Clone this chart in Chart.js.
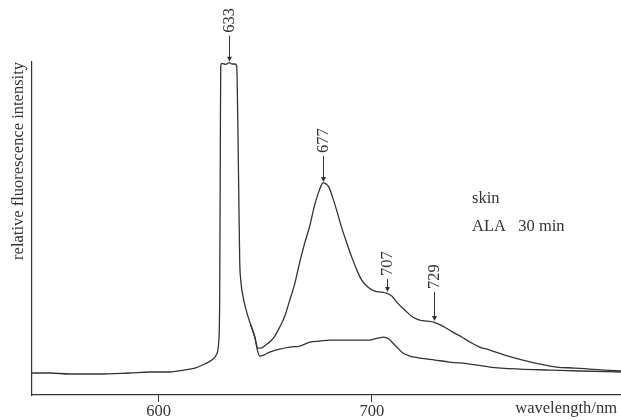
<!DOCTYPE html>
<html>
<head>
<meta charset="utf-8">
<script src="https://cdn.jsdelivr.net/npm/chart.js@4/dist/chart.umd.min.js"></script>
<style>
  html, body { margin: 0; padding: 0; background: #ffffff; }
  #wrap { width: 621px; height: 420px; }
</style>
</head>
<body>
<div id="wrap"><canvas id="spectrum" width="621" height="420"></canvas></div>
<script>
// Fluorescence emission spectrum of skin, 30 min after ALA application.
// Upper trace: with the 677 nm band; lower trace: reference spectrum.
const wavelengthsUpper = [540.5, 549, 558, 572, 586, 596, 605, 612, 617, 621.6, 624.9, 627.2, 628.2, 628.6, 628.9, 629.1, 629.6, 631.5, 633, 634.3, 635.7, 636.6, 637.1, 637.6, 638.0, 638.5, 639.9, 641.3, 643.2, 645.1, 646.5, 647.9, 650.2, 652.1, 654.5, 656.8, 659.2, 661.5, 663.8, 666.2, 668.5, 670.9, 673.2, 675.1, 676.2, 677, 679.8, 681.7, 683.6, 685.9, 688.3, 690.6, 693.0, 695.3, 698.1, 701.4, 704.7, 707, 709.4, 711.7, 715.5, 719.2, 722.5, 726.3, 729, 733.3, 738, 742.3, 746, 750.7, 755.4, 762.4, 770.9, 778.9, 786.9, 795.3, 802.3, 809.4, 817];
const intensityUpper = [6.6, 6.6, 6.3, 6.3, 6.6, 6.9, 6.9, 7.5, 8.1, 9.3, 10.5, 12.3, 16.5, 28.5, 73.6, 98.8, 99.6, 99.3, 99.8, 99.4, 99.4, 98.8, 82.6, 58.6, 40.5, 34.5, 28.5, 24.9, 21.0, 17.4, 14.1, 14.1, 15.0, 15.9, 17.7, 20.4, 23.7, 28.5, 33.3, 39.9, 45.6, 50.8, 57.1, 61.0, 62.8, 63.7, 62.5, 59.2, 55.3, 50.2, 45.6, 41.4, 37.5, 34.5, 32.4, 31.2, 30.9, 30.6, 29.7, 27.9, 25.5, 23.4, 22.5, 22.2, 21.9, 20.7, 18.9, 17.4, 15.9, 14.4, 13.5, 12.0, 10.5, 9.3, 8.4, 8.1, 7.8, 7.5, 7.2];

const wavelengthsLower = [643.2, 645.1, 646.3, 647.4, 649.3, 652.1, 656.8, 661.5, 666.2, 670.9, 675.6, 680.3, 685, 689.7, 694.4, 699.1, 702.8, 705.6, 708, 709.9, 712.2, 714.6, 717.8, 722.5, 729.6, 736.6, 746, 755.4, 769.5, 783.6, 797.7, 817];
const intensityLower = [21.0, 17.4, 13.5, 11.7, 12.0, 12.9, 13.8, 14.4, 14.7, 15.9, 16.2, 16.5, 16.5, 16.5, 16.5, 16.5, 17.1, 17.4, 16.8, 15.6, 14.1, 12.6, 11.7, 11.1, 10.5, 9.9, 9.3, 8.4, 7.8, 7.5, 7.2, 6.9];

const xTicks = [600, 700];
const peakWavelengths = [633, 677, 707, 729];
const peakLabels = ['633', '677', '707', '729'];
const sampleLines = ['skin', 'ALA   30 min'];

const ink = '#333333';
const serif = "'Liberation Serif', 'DejaVu Serif', serif";

const toPoints = (xs, ys) => xs.map((x, i) => ({ x, y: ys[i] }));
const upperPoints = toPoints(wavelengthsUpper, intensityUpper);
const lowerPoints = toPoints(wavelengthsLower, intensityLower);

// Arrows and wavelength labels above the bands, plus the sample note.
const peakMarks = {
  id: 'peakMarks',
  afterDatasetsDraw(chart, args, opts) {
    const { ctx, scales: { x, y }, chartArea } = chart;
    ctx.save();
    ctx.fillStyle = ink;
    ctx.strokeStyle = ink;
    ctx.font = `16.5px ${serif}`;
    peakWavelengths.forEach((nm, i) => {
      const pt = upperPoints.find(p => p.x === nm);
      const px = Math.round(x.getPixelForValue(nm)) + 0.5;
      const tipY = y.getPixelForValue(pt.y) - 1;
      const startY = tipY - opts.arrowLengths[i];
      ctx.lineWidth = 1;
      ctx.beginPath();
      ctx.moveTo(px, startY);
      ctx.lineTo(px, tipY - 4);
      ctx.stroke();
      ctx.beginPath();
      ctx.moveTo(px - 2.5, tipY - 5);
      ctx.lineTo(px + 2.5, tipY - 5);
      ctx.lineTo(px, tipY);
      ctx.closePath();
      ctx.fill();
      ctx.save();
      ctx.translate(px, startY - 3);
      ctx.rotate(-Math.PI / 2);
      ctx.textAlign = 'left';
      ctx.textBaseline = 'middle';
      ctx.fillText(peakLabels[i], 0, 0);
      ctx.restore();
    });
    // sample description
    ctx.textAlign = 'left';
    ctx.textBaseline = 'middle';
    sampleLines.forEach((line, i) => {
      ctx.fillText(line, chartArea.left + 440, chartArea.top + 137 + i * 28);
    });
    // x-axis unit, sharing the tick-label row
    ctx.textAlign = 'right';
    ctx.textBaseline = 'top';
    ctx.fillText('wavelength/nm', chartArea.right - 4, chartArea.bottom + 5);
    ctx.restore();
  }
};

new Chart(document.getElementById('spectrum'), {
  type: 'line',
  data: {
    datasets: [
      { data: upperPoints, borderColor: ink, borderWidth: 1.3, pointRadius: 0, cubicInterpolationMode: 'monotone', fill: false },
      { data: lowerPoints, borderColor: ink, borderWidth: 1.3, pointRadius: 0, cubicInterpolationMode: 'monotone', fill: false }
    ]
  },
  options: {
    responsive: false,
    animation: false,
    devicePixelRatio: 1,
    layout: { padding: { top: 62, right: 0, left: 0, bottom: 0 } },
    plugins: {
      legend: { display: false },
      tooltip: { enabled: false },
      peakMarks: { arrowLengths: [26, 26, 13, 29] }
    },
    scales: {
      x: {
        type: 'linear',
        min: 540.5,
        max: 817,
        afterBuildTicks(scale) { scale.ticks = xTicks.map(v => ({ value: v })); },
        afterFit(scale) { scale.height = 25; },
        grid: { drawOnChartArea: false, drawTicks: true, tickLength: 7, tickColor: ink, lineWidth: 1 },
        border: { display: true, color: ink, width: 1.2 },
        ticks: { color: ink, padding: 0, maxRotation: 0, font: { family: serif, size: 16.5 } }
      },
      y: {
        min: 0,
        max: 100,
        afterFit(scale) { scale.width = 32; },
        grid: { display: false, drawTicks: false },
        border: { display: true, color: ink, width: 1.2 },
        ticks: { display: false },
        title: {
          display: true,
          text: 'relative fluorescence intensity',
          align: 'end',
          color: ink,
          padding: { top: 9, bottom: 0 },
          font: { family: serif, size: 16.5, weight: 'normal' }
        }
      }
    }
  },
  plugins: [peakMarks]
});
</script>
</body>
</html>
